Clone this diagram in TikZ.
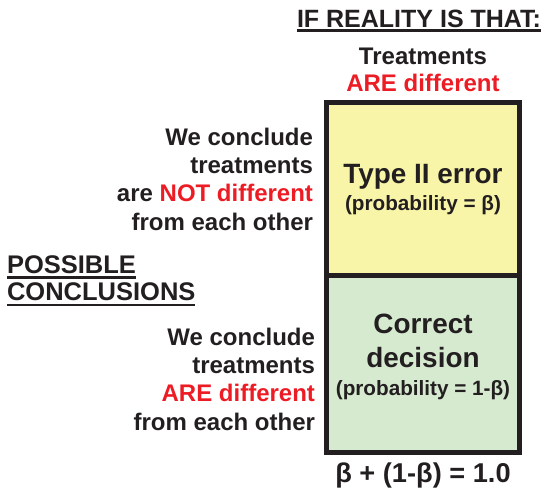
\documentclass[tikz,border=0pt]{standalone}
\usepackage{fontspec}
\setmainfont{Liberation Sans}
\usetikzlibrary{positioning}
\definecolor{ink}{RGB}{35,31,32}
\definecolor{hot}{RGB}{237,28,36}
\definecolor{errfill}{RGB}{248,244,168}
\definecolor{okfill}{RGB}{214,234,208}

\begin{document}
\begin{tikzpicture}[x=1pt,y=-1pt,
  txt/.style={inner sep=0pt,outer sep=0pt,text=ink,font=\bfseries\fontsize{24}{28.2}\selectfont},
  head/.style={txt,font=\bfseries\fontsize{25}{30}\selectfont},
  big/.style={txt,font=\bfseries\fontsize{27.9}{33.8}\selectfont},
  small/.style={txt,font=\bfseries\fontsize{20.7}{24}\selectfont},
  cell/.style={draw=ink,line width=5pt,minimum width=193pt,inner sep=0pt,outer sep=0pt},
  uline/.style={draw=ink,line width=2.5pt}]
  \useasboundingbox (0,0) rectangle (545,493);
  % the two cells of the table
  \node[cell,fill=errfill,minimum height=173pt] (err) at (423,189) {};
  \node[cell,fill=okfill,minimum height=177pt,anchor=north] (ok) at (err.south) {};
  % column heading
  \node[head,anchor=base east] (reality) at (541,27) {IF REALITY IS THAT:};
  \draw[uline] ([yshift=-3.5pt]reality.base west) -- ([yshift=-3.5pt]reality.base east);
  \node[txt,anchor=base] (treat) at (423,64.5) {Treatments};
  \node[txt,anchor=base,text=hot] (aredif) at (423,91) {ARE different};
  % row headings
  \node[txt,align=right,anchor=base east] (notdif) at (313,230)
    {We conclude\\treatments\\are \textcolor{hot}{NOT different}\\from each other};
  \node[head,font=\bfseries\fontsize{25.5}{30}\selectfont,anchor=base west] (possible) at (7,273.3) {POSSIBLE};
  \draw[uline] ([yshift=-4pt]possible.base west) -- ([yshift=-4pt]possible.base east);
  \node[head,font=\bfseries\fontsize{25.5}{30}\selectfont,anchor=base west] (concl) at (7,300.5) {CONCLUSIONS};
  \draw[uline] ([yshift=-4.5pt]concl.base west) -- ([yshift=-4.5pt]concl.base east);
  \node[txt,align=right,anchor=base east] (yesdif) at (315,430)
    {We conclude\\treatments\\\textcolor{hot}{ARE different}\\from each other};
  % cell contents
  \node[big,anchor=base] (type2) at (423,183) {Type II error};
  \node[small,anchor=base] (pbeta) at (423,210) {(probability = β)};
  \node[big,anchor=base,align=center] (correct) at (423,367) {Correct\\decision};
  \node[small,anchor=base] (pone) at (423,395) {(probability = 1-β)};
  % sum below the table
  \node[big,font=\bfseries\fontsize{27.2}{32}\selectfont,anchor=base] (sum) at (423,482) {β + (1-β) = 1.0};
\end{tikzpicture}
\end{document}
